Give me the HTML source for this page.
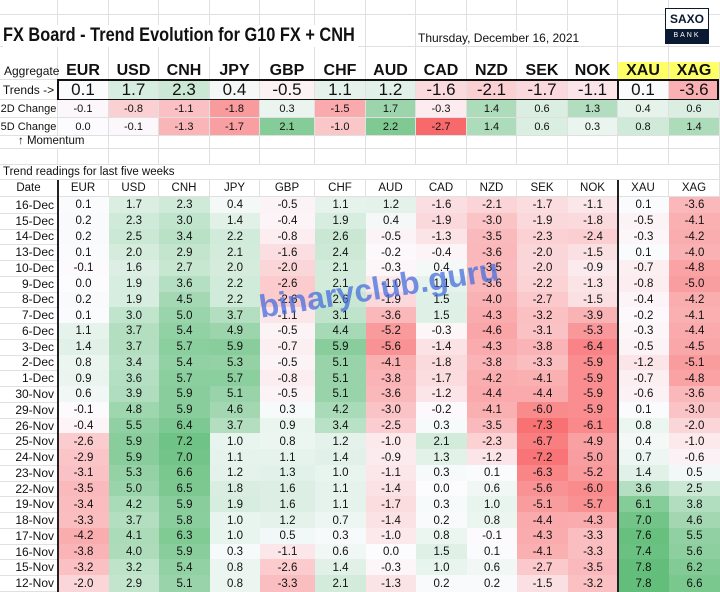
<!DOCTYPE html>
<html><head><meta charset="utf-8">
<style>
body{margin:0;width:720px;height:592px;overflow:hidden;background:#fff;font-family:"Liberation Sans",sans-serif;}
#board{position:relative;width:720px;height:592px;}
.c{position:absolute;box-sizing:border-box;display:flex;align-items:center;justify-content:center;font-size:11px;color:#111;border-right:1px solid #e0e0e0;border-bottom:1px solid #e0e0e0;font-family:"Liberation Sans Narrow","Liberation Sans",sans-serif;white-space:nowrap;}
.gl{position:absolute;background:#e0e0e0;}
</style></head><body>
<div id="board">
</div>
<script>
const currencies=["EUR","USD","CNH","JPY","GBP","CHF","AUD","CAD","NZD","SEK","NOK","XAU","XAG"];
const trends=[0.1,1.7,2.3,0.4,-0.5,1.1,1.2,-1.6,-2.1,-1.7,-1.1,0.1,-3.6];
const change2d=[-0.1,-0.8,-1.1,-1.8,0.3,-1.5,1.7,-0.3,1.4,0.6,1.3,0.4,0.6];
const change5d=[0.0,-0.1,-1.3,-1.7,2.1,-1.0,2.2,-2.7,1.4,0.6,0.3,0.8,1.4];
const dates=["16-Dec","15-Dec","14-Dec","13-Dec","10-Dec","9-Dec","8-Dec","7-Dec","6-Dec","3-Dec","2-Dec","1-Dec","30-Nov","29-Nov","26-Nov","25-Nov","24-Nov","23-Nov","22-Nov","19-Nov","18-Nov","17-Nov","16-Nov","15-Nov","12-Nov"];
const history=[
[0.1,1.7,2.3,0.4,-0.5,1.1,1.2,-1.6,-2.1,-1.7,-1.1,0.1,-3.6],
[0.2,2.3,3.0,1.4,-0.4,1.9,0.4,-1.9,-3.0,-1.9,-1.8,-0.5,-4.1],
[0.2,2.5,3.4,2.2,-0.8,2.6,-0.5,-1.3,-3.5,-2.3,-2.4,-0.3,-4.2],
[0.1,2.0,2.9,2.1,-1.6,2.4,-0.2,-0.4,-3.6,-2.0,-1.5,0.1,-4.0],
[-0.1,1.6,2.7,2.0,-2.0,2.1,-0.3,0.4,-3.5,-2.0,-0.9,-0.7,-4.8],
[0.0,1.9,3.6,2.2,-2.6,2.1,-1.0,1.1,-3.6,-2.2,-1.3,-0.8,-5.0],
[0.2,1.9,4.5,2.2,-2.6,2.6,-1.9,1.5,-4.0,-2.7,-1.5,-0.4,-4.2],
[0.1,3.0,5.0,3.7,-1.1,3.1,-3.6,1.5,-4.3,-3.2,-3.9,-0.2,-4.1],
[1.1,3.7,5.4,4.9,-0.5,4.4,-5.2,-0.3,-4.6,-3.1,-5.3,-0.3,-4.4],
[1.4,3.7,5.7,5.9,-0.7,5.9,-5.6,-1.4,-4.3,-3.8,-6.4,-0.5,-4.5],
[0.8,3.4,5.4,5.3,-0.5,5.1,-4.1,-1.8,-3.8,-3.3,-5.9,-1.2,-5.1],
[0.9,3.6,5.7,5.7,-0.8,5.1,-3.8,-1.7,-4.2,-4.1,-5.9,-0.7,-4.8],
[0.6,3.9,5.9,5.1,-0.5,5.1,-3.6,-1.2,-4.4,-4.4,-5.9,-0.6,-3.6],
[-0.1,4.8,5.9,4.6,0.3,4.2,-3.0,-0.2,-4.1,-6.0,-5.9,0.1,-3.0],
[-0.4,5.5,6.4,3.7,0.9,3.4,-2.5,0.3,-3.5,-7.3,-6.1,0.8,-2.0],
[-2.6,5.9,7.2,1.0,0.8,1.2,-1.0,2.1,-2.3,-6.7,-4.9,0.4,-1.0],
[-2.9,5.9,7.0,1.1,1.1,1.4,-0.9,1.3,-1.2,-7.2,-5.0,0.7,-0.6],
[-3.1,5.3,6.6,1.2,1.3,1.0,-1.1,0.3,0.1,-6.3,-5.2,1.4,0.5],
[-3.5,5.0,6.5,1.8,1.6,1.1,-1.4,0.0,0.6,-5.6,-6.0,3.6,2.5],
[-3.4,4.2,5.9,1.9,1.6,1.1,-1.7,0.3,1.0,-5.1,-5.7,6.1,3.8],
[-3.3,3.7,5.8,1.0,1.2,0.7,-1.4,0.2,0.8,-4.4,-4.3,7.0,4.6],
[-4.2,4.1,6.3,1.0,0.5,0.3,-1.0,0.8,-0.1,-4.3,-3.3,7.6,5.5],
[-3.8,4.0,5.9,0.3,-1.1,0.6,0.0,1.5,0.1,-4.1,-3.3,7.4,5.6],
[-3.2,3.2,5.4,0.8,-2.6,1.4,-0.3,1.0,0.6,-2.7,-3.5,7.8,6.2],
[-2.0,2.9,5.1,0.8,-3.3,2.1,-1.3,0.2,0.2,-1.5,-3.2,7.8,6.6]];

const B=document.getElementById('board');
const colX=[0,58,109,159,210,260,315,366,416,467,517,568,618,669,720];
function colour(v,max){
  let t=Math.min(1,Math.abs(v)/max);
  let c=v>=0?[99,190,123]:[248,105,107];
  let r=Math.round(252+(c[0]-252)*t),g=Math.round(252+(c[1]-252)*t),b=Math.round(255+(c[2]-255)*t);
  return `rgb(${r},${g},${b})`;
}
function cell(x,y,w,h,txt,bg,css){
  const d=document.createElement('div');
  d.className='c';
  d.style.left=x+'px';d.style.top=y+'px';d.style.width=w+'px';d.style.height=h+'px';
  if(bg)d.style.background=bg;
  if(css)d.style.cssText+=css;
  d.textContent=txt;
  B.appendChild(d);
  return d;
}
for(let i=1;i<14;i++){const g=document.createElement('div');g.className='gl';g.style.cssText=`left:${colX[i]-1}px;top:0;width:1px;height:62px`;B.appendChild(g);}
[14,46].forEach(y=>{const g=document.createElement('div');g.className='gl';g.style.cssText=`left:0;top:${y}px;width:720px;height:1px`;B.appendChild(g);});

const title=document.createElement('div');
title.textContent='FX Board - Trend Evolution for G10 FX + CNH';
title.style.cssText='position:absolute;left:3px;top:25px;font-size:19px;font-weight:bold;color:#111;background:#fff;transform-origin:0 0;transform:scaleX(0.86);white-space:nowrap;padding-right:4px';


B.appendChild(title);
const dl=document.createElement('div');
dl.textContent='Thursday, December 16, 2021';
dl.style.cssText='position:absolute;left:418px;top:31px;font-size:12px;color:#111;background:#fff;font-family:"Liberation Sans Narrow","Liberation Sans",sans-serif;padding-right:3px';


B.appendChild(dl);
const logo=document.createElement('div');
logo.innerHTML='<div style="text-align:center;font-size:12px;font-weight:bold;color:#0a1a33;line-height:20px">SAXO</div><div style="position:absolute;left:0;right:0;bottom:0;height:14px;background:#0a1a33;color:#fff;font-size:7px;letter-spacing:2px;text-align:center;line-height:14px">BANK</div>';
logo.style.cssText='position:absolute;left:665px;top:8px;width:44px;height:36px;border:1px solid #0a1a33;box-sizing:border-box;background:#fff';


B.appendChild(logo);

let h=cell(0,62,58,18,'Aggregate',null,'font-size:12px;justify-content:flex-start;padding-left:4px');

currencies.forEach((c,i)=>{
  const d=cell(colX[i+1],62,colX[i+2]-colX[i+1],18,c,i>=11?'#ffff66':null,'font-size:16px;font-weight:bold;font-family:"Liberation Sans",sans-serif');
  
  
});
h=cell(0,80,58,20,'Trends ->',null,'font-size:12px');

trends.forEach((v,i)=>{
  const d=cell(colX[i+1],80,colX[i+2]-colX[i+1],20,v.toFixed(1),colour(v,7),'font-size:17px;font-family:"Liberation Sans",sans-serif');
  
  
});
const box=document.createElement('div');
box.style.cssText='position:absolute;left:57px;top:79px;width:662px;height:22px;border:2px solid #111;box-sizing:border-box;pointer-events:none';
B.appendChild(box);
const sep=document.createElement('div');sep.style.cssText='position:absolute;left:617px;top:80px;width:1.5px;height:20px;background:#111';B.appendChild(sep);
[[change2d,'2D Change',100,'change2d'],[change5d,'5D Change',118,'change5d']].forEach(([arr,lab,y,nm])=>{
  const l=cell(0,y,58,18,lab,null,'font-size:11px');
  
  arr.forEach((v,i)=>{
    const d=cell(colX[i+1],y,colX[i+2]-colX[i+1],18,v.toFixed(1),colour(v,2.7));
    
    
  });
});
h=cell(0,134,109,15,'↑ Momentum',null,'font-size:11.5px;justify-content:flex-start;padding-left:18px');

for(let i=2;i<14;i++){cell(colX[i],134,colX[i+1]-colX[i],15,'');cell(colX[i],149,colX[i+1]-colX[i],16,'');}
cell(0,149,58,16,'');cell(58,149,51,16,'');
h=cell(0,165,720,15,'Trend readings for last five weeks',null,'font-size:11.5px;justify-content:flex-start;padding-left:3px');

h=cell(0,180,58,17,'Date',null,'font-size:11.5px');

currencies.forEach((c,i)=>{
  const d=cell(colX[i+1],180,colX[i+2]-colX[i+1],17,c,null,'font-size:11.5px');
  
  
});
const rowH=(591-197)/dates.length;
dates.forEach((dt,r)=>{
  const y=197+r*rowH;
  const l=cell(0,y,58,rowH+1,dt,null,'justify-content:flex-end;padding-right:3px;font-size:12px');
  
  
  history[r].forEach((v,i)=>{
    const d=cell(colX[i+1],y,colX[i+2]-colX[i+1],rowH+1,v.toFixed(1),colour(v,7.8),'border:none;font-size:11.5px');
    
    
  });
});
[[58,180],[618,180]].forEach(([x,y])=>{const v=document.createElement('div');v.style.cssText=`position:absolute;left:${x-1}px;top:${y}px;width:1.5px;height:${592-y}px;background:#222`;B.appendChild(v);});
const wm=document.createElement('div');
wm.textContent='binaryclub.guru';
wm.style.cssText='position:absolute;left:258px;top:270px;font-size:32px;font-weight:bold;color:rgba(70,110,220,0.75);transform:rotate(-9deg);font-family:"Liberation Sans Narrow","Liberation Sans",sans-serif';


B.appendChild(wm);
</script>
</body></html>
